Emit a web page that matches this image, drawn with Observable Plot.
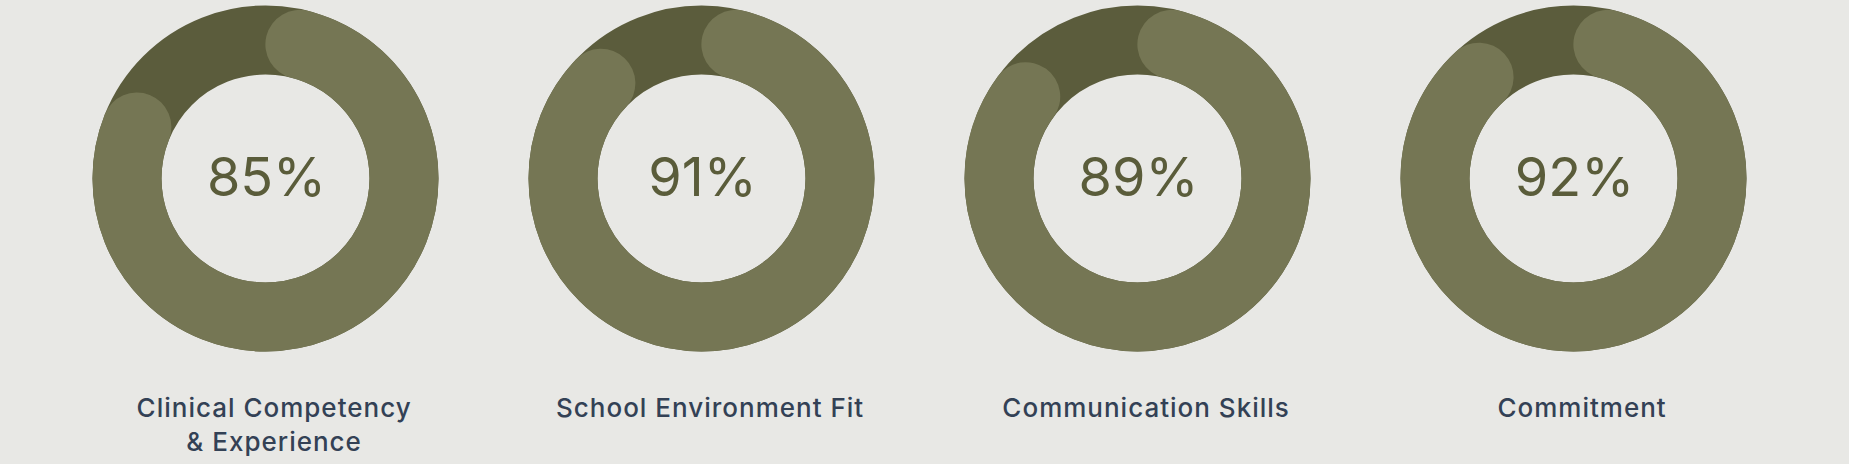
<!DOCTYPE html>
<html>
<head>
<meta charset="utf-8">
<script src="https://cdn.jsdelivr.net/npm/d3@7"></script>
<script src="https://cdn.jsdelivr.net/npm/@observablehq/plot@0.6"></script>
<style>
  html, body { margin: 0; padding: 0; background: #e8e8e5; }
  #chart { width: 1849px; height: 464px; overflow: hidden; }
  .cat-label, .cat-label text { letter-spacing: 1px; }
</style>
</head>
<body>
<div id="chart"></div>
<script>
// ---- data ----
const categories = ["Clinical Competency\n& Experience", "School Environment Fit", "Communication Skills", "Commitment"];
const scores = [85, 91, 89, 92];

// ---- styles ----
const trackColor = "#5b5c3c";
const arcColor = "#757654";
const pctColor = "#5a5c3a";
const labelColor = "#334155";
const font = "Inter, 'Open Sans', Lato, sans-serif";

const ringR = 138.5;      // centre line radius of ring (px)
const ringW = 69;         // ring thickness (px)
const C = 2 * Math.PI * ringR;

const rows = categories.map((c, i) => ({category: c, score: scores[i]}));

const arcMarks = rows.map(row => {
  const L = Math.max(0, row.score / 100 * C - ringW);
  const sStart = 0.75 * C + ringW / 2;
  return Plot.dot([row], {
    x: "category",
    r: ringR,
    fill: "none",
    stroke: arcColor,
    strokeWidth: ringW,
    strokeLinecap: "round",
    strokeDasharray: `${L} ${C - L}`,
    strokeDashoffset: C - sStart
  });
});

const chart = Plot.plot({
  width: 1849,
  height: 464,
  marginTop: 0,
  marginBottom: 108,
  marginLeft: 0,
  marginRight: 0,
  style: {background: "#e8e8e5", fontFamily: font, overflow: "visible"},
  x: {type: "band", domain: categories, range: [45.85, 1791.15], padding: 0, axis: null},
  marks: [
    Plot.dot(rows, {x: "category", r: ringR, fill: "none", stroke: trackColor, strokeWidth: ringW}),
    ...arcMarks,
    Plot.text(rows, {
      x: "category",
      text: d => `${d.score}%`,
      fill: pctColor,
      fontSize: 54,
      fontWeight: 400,
      fontFamily: font,
      dx: 1
    }),
    Plot.text(rows, {
      x: "category",
      text: "category",
      frameAnchor: "bottom",
      lineAnchor: "top",
      dy: 36,
      dx: 8.6,
      fill: labelColor,
      fontSize: 26,
      fontWeight: 500,
      lineHeight: 1.31,
      fontFamily: font,
      className: "cat-label"
    })
  ]
});
document.getElementById("chart").append(chart);
</script>
</body>
</html>
